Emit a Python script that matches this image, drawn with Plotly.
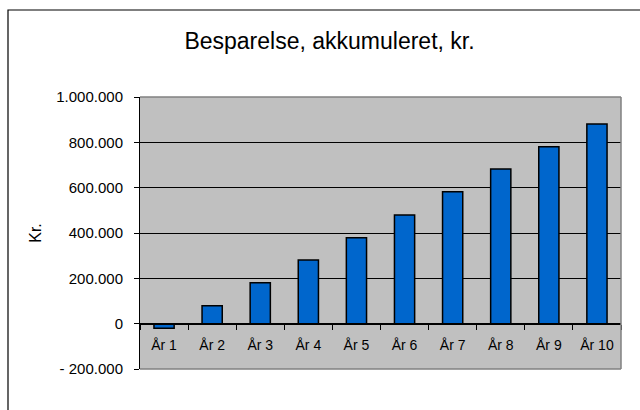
import plotly.graph_objects as go

categories = ["År 1", "År 2", "År 3", "År 4", "År 5", "År 6", "År 7", "År 8", "År 9", "År 10"]
savings = [-20000, 79000, 181000, 281000, 379000, 479000, 582000, 682000, 781000, 881000]
y_tickvals = [-200000, 0, 200000, 400000, 600000, 800000, 1000000]
y_ticktext = ["- 200.000", "0", "200.000", "400.000", "600.000", "800.000", "1.000.000"]

FONT = "Liberation Sans, Arial, sans-serif"

fig = go.Figure(
    go.Bar(
        x=categories,
        y=savings,
        width=0.42,
        marker=dict(color="#0066CC", line=dict(color="black", width=1.5)),
    )
)

ymin, ymax = -200000, 1000000
zero_pos = (0 - ymin) / (ymax - ymin)

fig.update_layout(
    width=640,
    height=410,
    margin=dict(l=140, r=19, t=97, b=41, pad=0),
    paper_bgcolor="white",
    plot_bgcolor="#C0C0C0",
    showlegend=False,
    font=dict(family=FONT, size=15, color="black"),
    title=dict(
        text="Besparelse, akkumuleret, kr.",
        font=dict(family=FONT, size=23, color="black"),
        xref="container", x=329.5 / 640, xanchor="center",
        yref="container", y=1 - 41 / 410, yanchor="middle",
    ),
    xaxis=dict(
        type="category",
        range=[-0.5, 9.5],
        tickson="boundaries",
        ticks="outside",
        ticklen=5,
        tickcolor="black",
        tickwidth=1,
        ticklabelstandoff=9,
        showline=True,
        linecolor="black",
        linewidth=1,
        showgrid=False,
        anchor="free",
        position=zero_pos,
        tickfont=dict(family=FONT, size=14, color="black"),
        fixedrange=True,
    ),
    yaxis=dict(
        range=[ymin, ymax],
        tickvals=y_tickvals,
        ticktext=y_ticktext,
        ticks="outside",
        ticklen=5,
        tickcolor="black",
        ticklabelstandoff=8,
        showline=True,
        linecolor="black",
        linewidth=1,
        showgrid=True,
        gridcolor="black",
        gridwidth=1,
        zeroline=False,
        tickfont=dict(family=FONT, size=15, color="black"),
        title=dict(text="Kr.", font=dict(family=FONT, size=16, color="black"), standoff=10),
        fixedrange=True,
    ),
    shapes=[
        # plot area border (top, right, bottom) in gray
        dict(type="line", xref="paper", yref="paper", x0=0, x1=1, y0=1, y1=1,
             line=dict(color="#808080", width=1.5)),
        dict(type="line", xref="paper", yref="paper", x0=1, x1=1, y0=0, y1=1,
             line=dict(color="#808080", width=1.5)),
        dict(type="line", xref="paper", yref="paper", x0=0, x1=1, y0=0, y1=0,
             line=dict(color="#808080", width=1.5)),
        # outer chart border (cropped on right and bottom)
        dict(type="rect", xref="paper", yref="paper",
             x0=(8 - 140) / 481, x1=(660 - 140) / 481,
             y0=(369 - 430) / 272, y1=(369 - 10) / 272,
             line=dict(color="black", width=1.2), fillcolor="rgba(0,0,0,0)"),
    ],
)

fig.write_html(
    "out.html",
    config={"displayModeBar": False},
    post_script="document.body.style.margin='0';document.body.style.overflow='hidden';",
)
